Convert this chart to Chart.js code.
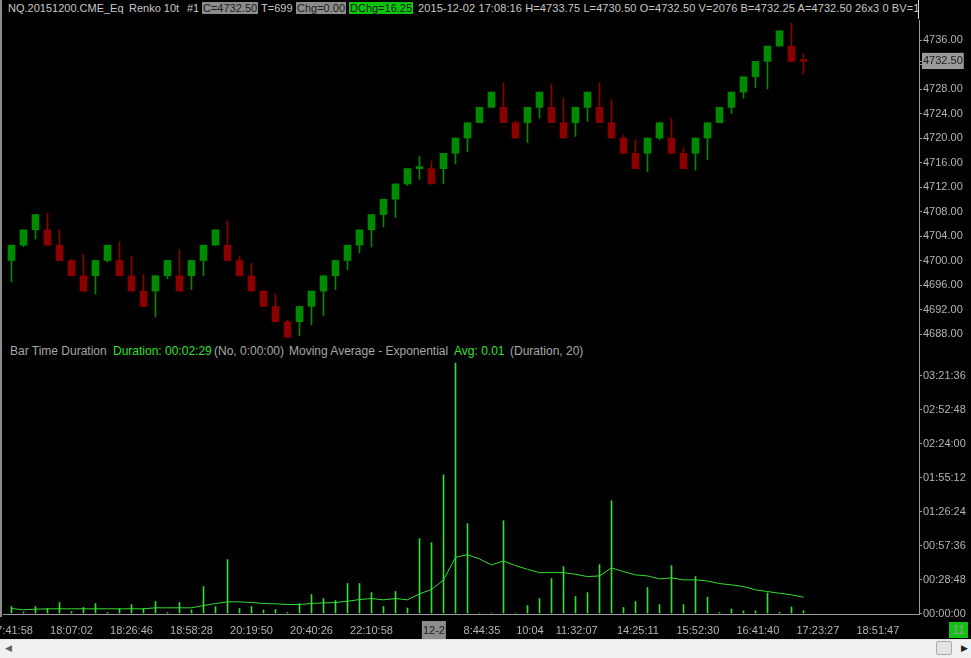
<!DOCTYPE html>
<html>
<head>
<meta charset="utf-8">
<script src="https://cdn.jsdelivr.net/npm/chart.js@4.4.1/dist/chart.umd.min.js"></script>
<style>
    html, body { margin: 0; padding: 0; background: #000; }
    body { width: 971px; height: 658px; position: relative; overflow: hidden; font-family: "Liberation Sans", Arial, sans-serif; }
    .abs { position: absolute; white-space: pre; }
    .hd { top: 0; height: 16px; line-height: 16px; font-size: 11px; color: #c8c8c8; }
    .gb { background: #8c8c8c; color: #1c1c1c; padding: 0 1px; }
    .grn { background: #0fc40f; color: #1c1c1c; padding: 0 1px; }
    .sub { top: 343px; height: 16px; line-height: 16px; font-size: 12px; color: #a8a8a8; }
    .lime { color: #2fe02f; }
    canvas { position: absolute; left: 0; }
</style>
</head>
<body>
<div class="abs" style="left:0;top:0;width:2px;height:617px;background:#8c8c8c"></div>
<div class="abs" style="left:918px;top:0;width:1px;height:19px;background:#d8d8d8"></div>
<div class="abs" style="left:919px;top:20px;width:1px;height:595px;background:#9a9a9a"></div>

<div class="abs hd" style="left:8px">NQ.20151200.CME_Eq</div>
<div class="abs hd" style="left:129px">Renko 10t</div>
<div class="abs hd" style="left:187px">#1</div>
<div class="abs hd" style="left:202px"><span class="gb">C=4732.50</span></div>
<div class="abs hd" style="left:261px">T=699</div>
<div class="abs hd" style="left:296px"><span class="gb">Chg=0.00</span></div>
<div class="abs hd" style="left:349px"><span class="grn">DChg=16.25</span></div>
<div class="abs hd" style="left:418px;letter-spacing:0.1px">2015-12-02 17:08:16 H=4733.75 L=4730.50 O=4732.50 V=2076 B=4732.25 A=4732.50 26x3 0 BV=1</div>

<div class="abs sub" style="left:10px">Bar Time Duration</div>
<div class="abs sub lime" style="left:113px">Duration: 00:02:29</div>
<div class="abs sub" style="left:214px">(No, 0:00:00)</div>
<div class="abs sub" style="left:289px">Moving Average - Exponential</div>
<div class="abs sub lime" style="left:454px">Avg: 0.01</div>
<div class="abs sub" style="left:510px">(Duration, 20)</div>

<canvas id="price" width="971" height="322" style="top:20px"></canvas>
<canvas id="duration" width="971" height="298" style="top:342px"></canvas>

<div class="abs" style="left:949px;top:622px;width:19px;height:16px;background:#12c212;color:#9a9a9a;font-size:12px;line-height:16px;text-align:center">11</div>

<div class="abs" style="left:0;top:639px;width:971px;height:19px;background:#f0f0f0;border-top:1px solid #e2e2e2"></div>
<div class="abs" style="left:5px;top:643px;font-size:9px;color:#606060">&#9664;</div>
<div class="abs" style="left:961px;top:643px;font-size:9px;color:#202020">&#9654;</div>
<div class="abs" style="left:936px;top:641px;width:14px;height:12px;background:#e4e4e4;border:1px solid #acacac;border-radius:2px"></div>

<script>
// renko bars, 10 ticks = 2.5 points per box
const opens = [
    4700, 4702.5, 4705, 4705, 4702.5, 4700, 4697.5, 4697.5, 4700, 4700,
    4697.5, 4695, 4695, 4697.5, 4697.5, 4697.5, 4700, 4702.5, 4702.5, 4700,
    4697.5, 4695, 4692.5, 4690, 4690, 4692.5, 4695, 4697.5, 4700, 4702.5,
    4705, 4707.5, 4710, 4712.5, 4715, 4715, 4715, 4717.5, 4720, 4722.5,
    4725, 4725, 4722.5, 4722.5, 4725, 4725, 4722.5, 4722.5, 4725, 4725,
    4722.5, 4720, 4717.5, 4717.5, 4720, 4720, 4717.5, 4717.5, 4720, 4722.5,
    4725, 4727.5, 4730, 4732.5, 4735, 4735, 4732.5
];
const closes = [
    4702.5, 4705, 4707.5, 4702.5, 4700, 4697.5, 4695, 4700, 4702.5, 4697.5,
    4695, 4692.5, 4697.5, 4700, 4695, 4700, 4702.5, 4705, 4700, 4697.5,
    4695, 4692.5, 4690, 4687.5, 4692.5, 4695, 4697.5, 4700, 4702.5, 4705,
    4707.5, 4710, 4712.5, 4715, 4715, 4712.5, 4717.5, 4720, 4722.5, 4725,
    4727.5, 4722.5, 4720, 4725, 4727.5, 4722.5, 4720, 4725, 4727.5, 4722.5,
    4720, 4717.5, 4715, 4720, 4722.5, 4717.5, 4715, 4720, 4722.5, 4725,
    4727.5, 4730, 4732.5, 4735, 4737.5, 4732.5, 4732.5
];
const highs = [
    4702.5, 4705, 4707.5, 4707.75, 4705, 4700.25, 4701, 4700, 4702.5, 4703,
    4700.75, 4697.75, 4697.5, 4700, 4701.75, 4700, 4702.5, 4705, 4706.5, 4700.75,
    4699.5, 4695, 4694.5, 4690.25, 4692.5, 4695, 4697.5, 4700, 4702.5, 4705,
    4707.5, 4710, 4712.5, 4715, 4717, 4716.25, 4717.5, 4720, 4722.5, 4725,
    4727.5, 4729, 4722.75, 4725, 4727.5, 4728.75, 4726.5, 4725, 4727.5, 4729,
    4726.25, 4720.5, 4719.75, 4720, 4722.5, 4723.25, 4718.5, 4720, 4722.5, 4725,
    4727.5, 4730, 4732.5, 4735, 4737.5, 4738.75, 4733.75
];
const lows = [
    4696.5, 4702.25, 4703.5, 4702.5, 4700, 4697.5, 4695, 4694.5, 4699.75, 4697.5,
    4695, 4692.5, 4690.75, 4697, 4695, 4695.25, 4697.5, 4702.5, 4700, 4697.5,
    4695, 4692.5, 4690, 4687.5, 4687.75, 4689.5, 4691, 4695.25, 4698.5, 4701.25,
    4702.25, 4705.5, 4707, 4712.25, 4713.25, 4712.5, 4712.5, 4715.75, 4717.75, 4722.5,
    4725, 4722.5, 4720, 4719.25, 4723.25, 4722.5, 4720, 4720.25, 4722.75, 4722.5,
    4720, 4717.5, 4715, 4714.5, 4719.75, 4717.5, 4715, 4714.75, 4716.5, 4722.5,
    4724, 4726.5, 4728.25, 4728, 4735, 4732.5, 4730.5
];
// bar time duration, seconds
const durations = [
    355, 76, 355, 254, 558, 101, 304, 507, 51, 254,
    456, 254, 608, 51, 558, 177, 1369, 355, 2738, 254,
    355, 177, 203, 51, 507, 963, 760, 659, 1521, 1521,
    1065, 355, 1115, 279, 3803, 3600, 7047, 12726, 4563, 25,
    25, 4715, 25, 406, 760, 1775, 2383, 862, 1065, 2484,
    5729, 304, 608, 1318, 456, 2434, 456, 1876, 837, 51,
    228, 137, 137, 1044, 66, 335, 149
];
// exponential moving average (20) of the duration, seconds
const durationEma = [
    254, 188, 218, 238, 238, 238, 238, 238, 238, 238,
    238, 238, 289, 289, 289, 289, 406, 507, 593, 593,
    558, 507, 492, 456, 456, 507, 542, 558, 624, 710,
    761, 695, 761, 695, 999, 1217, 1709, 2854, 2991, 2773,
    2469, 2672, 2434, 2246, 2079, 2079, 2079, 1993, 1876, 1911,
    2317, 2129, 1962, 1911, 1759, 1810, 1709, 1709, 1648, 1521,
    1455, 1369, 1202, 1115, 1029, 948, 826
];
const priceTicks = [4688, 4692, 4696, 4700, 4704, 4708, 4712, 4716, 4720, 4724, 4728, 4732, 4736];
const lastPrice = 4732.5;
const durationTicks = [0, 1728, 3456, 5184, 6912, 8640, 10368, 12096];
const timeTickPos = [0, 5, 10, 15, 20, 25, 30, 35.2, 39.2, 43.2, 47.1, 52.2, 57.2, 62.2, 67.2, 72.2];
const timeTickLabels = ['17:41:58', '18:07:02', '18:26:46', '18:58:28', '20:19:50', '20:40:26', '22:10:58', '12-2',
    '8:44:35', '10:04', '11:32:07', '14:25:11', '15:52:30', '16:41:40', '17:23:27', '18:51:47'];

const UP = '#008a00';
const DOWN = '#8a0000';
const AXIS = '#9a9a9a';
const TEXT = '#b4b4b4';
const LIME = '#33dd33';
const FONT = { family: 'Liberation Sans', size: 11 };

function candleColor(i) {
    let j = i;
    let dir = closes[j] - opens[j];
    while (dir === 0 && j > 0) {
        j--;
        dir = closes[j] - opens[j];
    }
    return dir >= 0 ? UP : DOWN;
}

function hms(sec) {
    const h = Math.floor(sec / 3600);
    const m = Math.floor(sec % 3600 / 60);
    const s = Math.round(sec % 60);
    return [h, m, s].map(v => String(v).padStart(2, '0')).join(':');
}

function noPadding(scale) {
    scale.paddingLeft = 0;
    scale.paddingRight = 0;
    scale.paddingTop = 0;
    scale.paddingBottom = 0;
}

// 12 px per bar, first bar centred at x = 11.5
const xMin = -8.5 / 12;
const xMax = xMin + 916 / 12;
const colors = opens.map((o, i) => candleColor(i));

new Chart(document.getElementById('price'), {
    type: 'bar',
    data: {
        datasets: [{
            label: 'wick',
            data: opens.map((o, i) => ({ x: i, y: [lows[i], highs[i]] })),
            backgroundColor: colors,
            barThickness: 1,
            maxBarThickness: 1,
            grouped: false,
            order: 2
        }, {
            label: 'body',
            data: opens.map((o, i) => ({ x: i, y: [o, closes[i]] })),
            backgroundColor: colors,
            barThickness: 7,
            maxBarThickness: 7,
            minBarLength: 2,
            grouped: false,
            order: 1
        }]
    },
    options: {
        animation: false,
        responsive: false,
        devicePixelRatio: 1,
        layout: { padding: { left: 3, right: 0, top: 0, bottom: 0 } },
        plugins: { legend: { display: false }, tooltip: { enabled: false } },
        scales: {
            x: { type: 'linear', min: xMin, max: xMax, offset: false, display: false },
            y: {
                position: 'right',
                min: 4736 - 302 / 6.125,
                max: 4736 + 20 / 6.125,
                afterBuildTicks: (s) => { s.ticks = priceTicks.concat([lastPrice]).map(v => ({ value: v })); },
                afterFit: (s) => { s.width = 52; noPadding(s); },
                grid: { drawOnChartArea: false, color: AXIS, tickLength: 3 },
                border: { color: AXIS },
                ticks: {
                    font: FONT,
                    padding: 1,
                    color: (ctx) => ctx.tick && ctx.tick.value === lastPrice ? '#1c1c1c' : TEXT,
                    showLabelBackdrop: (ctx) => ctx.tick && ctx.tick.value === lastPrice,
                    backdropColor: '#9a9a9a',
                    backdropPadding: { left: 1, right: 1, top: 2, bottom: 1 },
                    callback: (v) => v.toFixed(2)
                }
            }
        }
    }
});

new Chart(document.getElementById('duration'), {
    type: 'bar',
    data: {
        datasets: [{
            type: 'line',
            label: 'Avg',
            data: durationEma.map((v, i) => ({ x: i, y: v })),
            borderColor: LIME,
            borderWidth: 1,
            pointRadius: 0,
            tension: 0,
            order: 1
        }, {
            label: 'Duration',
            data: durations.map((v, i) => ({ x: i, y: v })),
            backgroundColor: LIME,
            barThickness: 1,
            maxBarThickness: 1,
            grouped: false,
            order: 2
        }]
    },
    options: {
        animation: false,
        responsive: false,
        devicePixelRatio: 1,
        layout: { padding: { left: 3, right: 0, top: 15, bottom: 0 } },
        plugins: { legend: { display: false }, tooltip: { enabled: false } },
        scales: {
            x: {
                type: 'linear', min: xMin, max: xMax, offset: false,
                afterBuildTicks: (s) => { s.ticks = timeTickPos.map(v => ({ value: v })); },
                afterFit: (s) => { s.height = 26; noPadding(s); },
                grid: { display: false, drawTicks: false },
                border: { color: AXIS },
                ticks: {
                    font: FONT,
                    padding: 10,
                    autoSkip: false,
                    maxRotation: 0,
                    color: (ctx) => timeTickLabels[ctx.index] === '12-2' ? '#1c1c1c' : TEXT,
                    showLabelBackdrop: (ctx) => timeTickLabels[ctx.index] === '12-2',
                    backdropColor: '#8c8c8c',
                    backdropPadding: { left: 1, right: 1, top: 3, bottom: 4 },
                    callback: (v, i) => timeTickLabels[i]
                }
            },
            y: {
                position: 'right',
                min: -25,
                max: 13035,
                afterBuildTicks: (s) => { s.ticks = durationTicks.map(v => ({ value: v })); },
                afterFit: (s) => { s.width = 52; noPadding(s); },
                grid: { drawOnChartArea: false, color: AXIS, tickLength: 3 },
                border: { color: AXIS },
                ticks: { font: FONT, padding: 1, color: TEXT, callback: (v) => hms(v) }
            }
        }
    }
});
</script>
</body>
</html>
